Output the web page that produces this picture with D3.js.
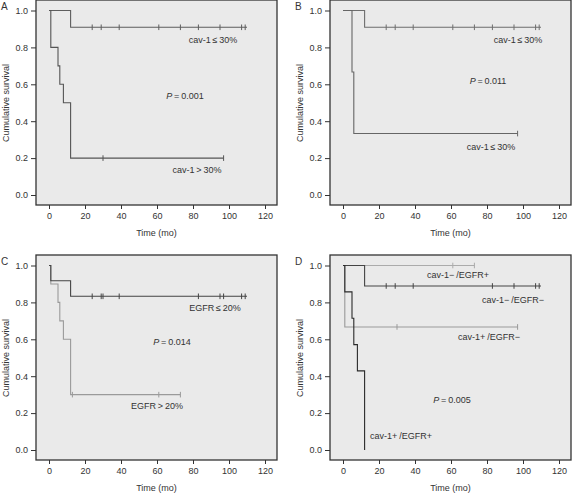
<!DOCTYPE html>
<html>
<head>
<meta charset="utf-8">
<script src="https://cdn.jsdelivr.net/npm/d3@7/dist/d3.min.js"></script>
<style>
  html, body { margin: 0; padding: 0; background: #ffffff; }
  svg { display: block; }
  text { font-family: "Liberation Sans", Arial, Helvetica, sans-serif; fill: #333; }
</style>
</head>
<body>
<svg id="chart" width="572" height="493"></svg>
<script>
// ---------- data ----------
const panelLetters = ["A", "B", "C", "D"];
const xTicks = [0, 20, 40, 60, 80, 100, 120];
const yTicks = [0.0, 0.2, 0.4, 0.6, 0.8, 1.0];
const xTitle = "Time (mo)";
const yTitle = "Cumulative survival";

// Panel A
const aLowTimes = [0, 12, 110];
const aLowSurv = [1.0, 0.909, 0.909];
const aLowCensor = [24, 29, 39, 61, 73, 83, 95, 107, 109];
const aHighTimes = [0, 1, 5, 6, 8, 12, 97];
const aHighSurv = [1.0, 0.8, 0.7, 0.6, 0.5, 0.2, 0.2];
const aHighCensor = [30, 97];
const aLabels = ["cav-1\u2009\u2264\u200930%", "cav-1\u2009>\u200930%"];
const aP = "0.001";

// Panel B
const bLowTimes = [0, 12, 110];
const bLowSurv = [1.0, 0.909, 0.909];
const bLowCensor = [24, 29, 39, 61, 73, 83, 95, 107, 109];
const bHighTimes = [0, 5, 6, 97];
const bHighSurv = [1.0, 0.667, 0.333, 0.333];
const bHighCensor = [97];
const bLabels = ["cav-1\u2009\u2264\u200930%", "cav-1\u2009\u2264\u200930%"];
const bP = "0.011";

// Panel C
const cLowTimes = [0, 1, 12, 110];
const cLowSurv = [1.0, 0.917, 0.833, 0.833];
const cLowCensor = [24, 29, 30, 39, 83, 95, 97, 107, 109];
const cHighTimes = [0, 1, 5, 6, 8, 12, 73];
const cHighSurv = [1.0, 0.9, 0.8, 0.7, 0.6, 0.3, 0.3];
const cHighCensor = [13, 61, 73];
const cLabels = ["EGFR\u2009\u2264\u200920%", "EGFR\u2009>\u200920%"];
const cP = "0.014";

// Panel D
const dNegPosTimes = [0, 73];
const dNegPosSurv = [1.0, 1.0];
const dNegPosCensor = [61, 73];
const dNegNegTimes = [0, 12, 110];
const dNegNegSurv = [1.0, 0.889, 0.889];
const dNegNegCensor = [24, 29, 39, 83, 95, 107, 109];
const dPosNegTimes = [0, 1, 97];
const dPosNegSurv = [1.0, 0.667, 0.667];
const dPosNegCensor = [30, 97];
const dPosPosTimes = [0, 1, 5, 6, 8, 12];
const dPosPosSurv = [1.0, 0.857, 0.714, 0.571, 0.429, 0.0];
const dPosPosCensor = [];
const dLabels = ["cav-1\u2212\u2009/EGFR+", "cav-1\u2212\u2009/EGFR\u2212", "cav-1+\u2009/EGFR\u2212", "cav-1+\u2009/EGFR+"];
const dP = "0.005";

// ---------- layout ----------
const svg = d3.select("#chart");
const panelOffsets = [[0, 0], [294, 0], [0, 255], [294, 255]];
const frame = { left: 36, right: 277, top: 0, bottom: 205 };
const x = d3.scaleLinear().domain([0, 120]).range([49, 265]);
const y = d3.scaleLinear().domain([0, 1]).range([195, 10.5]);

const line = d3.line().x(d => x(d[0])).y(d => y(d[1])).curve(d3.curveStepAfter);

function stepOf(times, surv) {
  return times.map((t, i) => [t, surv[i]]);
}
function survAt(times, surv, t) {
  let s = surv[0];
  for (let i = 0; i < times.length; i++) if (times[i] <= t) s = surv[i];
  return s;
}

const panels = [
  {
    series: [
      { times: aLowTimes, surv: aLowSurv, censor: aLowCensor, color: "#5e5e5e" },
      { times: aHighTimes, surv: aHighSurv, censor: aHighCensor, color: "#555555" }
    ],
    texts: [
      { t: aLabels[0], x: 213, y: 40 },
      { t: aLabels[1], x: 197, y: 170 }
    ],
    p: { v: aP, x: 185, y: 96 }
  },
  {
    series: [
      { times: bLowTimes, surv: bLowSurv, censor: bLowCensor, color: "#6e6e6e" },
      { times: bHighTimes, surv: bHighSurv, censor: bHighCensor, color: "#666666" }
    ],
    texts: [
      { t: bLabels[0], x: 224, y: 40 },
      { t: bLabels[1], x: 197, y: 147 }
    ],
    p: { v: bP, x: 194, y: 81 }
  },
  {
    series: [
      { times: cHighTimes, surv: cHighSurv, censor: cHighCensor, color: "#9a9a9a" },
      { times: cLowTimes, surv: cLowSurv, censor: cLowCensor, color: "#444444" }
    ],
    texts: [
      { t: cLabels[0], x: 215, y: 53 },
      { t: cLabels[1], x: 157, y: 151 }
    ],
    p: { v: cP, x: 172, y: 87 }
  },
  {
    series: [
      { times: dNegPosTimes, surv: dNegPosSurv, censor: dNegPosCensor, color: "#ababab" },
      { times: dPosNegTimes, surv: dPosNegSurv, censor: dPosNegCensor, color: "#999999" },
      { times: dNegNegTimes, surv: dNegNegSurv, censor: dNegNegCensor, color: "#444444" },
      { times: dPosPosTimes, surv: dPosPosSurv, censor: dPosPosCensor, color: "#2a2a2a" }
    ],
    texts: [
      { t: dLabels[0], x: 164, y: 20 },
      { t: dLabels[1], x: 219, y: 45 },
      { t: dLabels[2], x: 195, y: 82 },
      { t: dLabels[3], x: 107, y: 181 }
    ],
    p: { v: dP, x: 158, y: 145 }
  }
];

panels.forEach((p, i) => {
  const g = svg.append("g").attr("transform", `translate(${panelOffsets[i][0]},${panelOffsets[i][1]})`);

  // plot background + frame
  g.append("rect")
    .attr("x", frame.left).attr("y", frame.top)
    .attr("width", frame.right - frame.left).attr("height", frame.bottom - frame.top)
    .attr("fill", "#eaeaea").attr("stroke", "#333").attr("stroke-width", 1.3);

  // y axis
  const yAxis = d3.axisLeft(y).tickValues(yTicks).tickFormat(d3.format(".1f")).tickSize(5).tickPadding(3);
  const ya = g.append("g").attr("transform", `translate(${frame.left},0)`).call(yAxis);
  ya.select(".domain").remove();
  ya.selectAll("line").attr("stroke", "#333");
  ya.selectAll("text").attr("font-size", 9).style("fill", "#333")
    .attr("font-family", "Liberation Sans, Arial, sans-serif");

  // x axis
  const xAxis = d3.axisBottom(x).tickValues(xTicks).tickFormat(d3.format("d")).tickSize(4).tickPadding(4);
  const xa = g.append("g").attr("transform", `translate(0,${frame.bottom})`).call(xAxis);
  xa.select(".domain").remove();
  xa.selectAll("line").attr("stroke", "#333");
  xa.selectAll("text").attr("font-size", 9).style("fill", "#333")
    .attr("font-family", "Liberation Sans, Arial, sans-serif");

  // axis titles
  g.append("text").attr("x", (frame.left + frame.right) / 2).attr("y", 236)
    .attr("text-anchor", "middle").attr("font-size", 9).text(xTitle);
  g.append("text").attr("transform", "translate(8.5,103) rotate(-90)")
    .attr("text-anchor", "middle").attr("font-size", 9).text(yTitle);

  // panel letter
  g.append("text").attr("x", 1).attr("y", 10).attr("font-size", 10).text(panelLetters[i]);

  // curves
  p.series.forEach(s => {
    g.append("path").datum(stepOf(s.times, s.surv))
      .attr("d", line).attr("fill", "none")
      .attr("stroke", s.color).attr("stroke-width", 1.1);
    g.selectAll(null).data(s.censor).enter().append("line")
      .attr("x1", d => x(d)).attr("x2", d => x(d))
      .attr("y1", d => y(survAt(s.times, s.surv, d)) - 2.8)
      .attr("y2", d => y(survAt(s.times, s.surv, d)) + 2.8)
      .attr("stroke", s.color).attr("stroke-width", 1);
  });

  // labels
  p.texts.forEach(t => {
    g.append("text").attr("x", t.x).attr("y", t.y + 3.2)
      .attr("text-anchor", "middle").attr("font-size", 9).text(t.t);
  });
  const pt = g.append("text").attr("x", p.p.x).attr("y", p.p.y + 3.2)
    .attr("text-anchor", "middle").attr("font-size", 9);
  pt.append("tspan").attr("font-style", "italic").text("P");
  pt.append("tspan").text("\u2009=\u2009" + p.p.v);
});
</script>
</body>
</html>
